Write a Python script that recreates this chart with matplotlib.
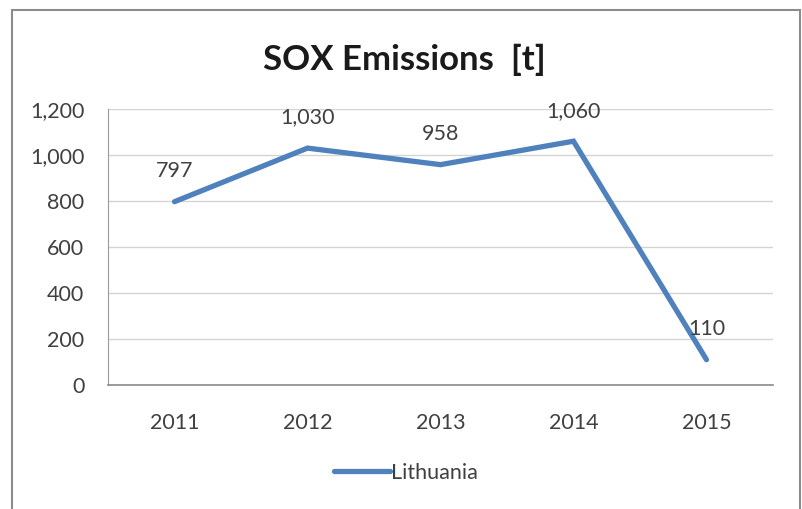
import matplotlib
matplotlib.use("Agg")
import matplotlib.pyplot as plt
from matplotlib.patches import Rectangle

plt.rcParams['font.family'] = ['Lato', 'DejaVu Sans']

years = ["2011", "2012", "2013", "2014", "2015"]
emissions = [797, 1030, 958, 1060, 110]
value_labels = ["797", "1,030", "958", "1,060", "110"]
y_ticks = [0, 200, 400, 600, 800, 1000, 1200]
y_tick_labels = ["0", "200", "400", "600", "800", "1,000", "1,200"]

line_color = "#4f81bd"
text_color = "#404040"
fs = 15.5

fig = plt.figure(figsize=(8.03, 5.09), dpi=100)
fig.patch.set_facecolor("white")

# outer chart frame
fig.patches.append(Rectangle((12 / 803, -0.05), 788 / 803, 1 - 10 / 509 + 0.05,
                             transform=fig.transFigure, fill=False,
                             edgecolor="#8c8c8c", linewidth=1.5))

ax = fig.add_axes([108 / 803, 1 - 385 / 509, 665 / 803, 276 / 509])
x = list(range(len(years)))
ax.plot(x, emissions, color=line_color, linewidth=3.8, solid_joinstyle="miter",
        solid_capstyle="round", label="Lithuania")

for xi, v, lab in zip(x, emissions, value_labels):
    ax.annotate(lab, (xi, v), xytext=(0, 22), textcoords="offset points",
                ha="center", va="center", fontsize=fs, color=text_color)

ax.set_xlim(-0.5, len(years) - 0.5)
ax.set_ylim(0, 1200)
ax.set_xticks(x)
ax.set_xticklabels(years)
ax.set_yticks(y_ticks)
ax.set_yticklabels(y_tick_labels)
ax.tick_params(axis="both", length=0, labelsize=fs, labelcolor=text_color)
ax.tick_params(axis="y", pad=17)
ax.tick_params(axis="x", pad=20)
ax.yaxis.grid(True, color="#d4d4d4", linewidth=1)
ax.set_axisbelow(True)
for side in ["top", "right"]:
    ax.spines[side].set_visible(False)
ax.spines["left"].set_color("#9a9a9a")
ax.spines["bottom"].set_color("#8a8a8a")
ax.spines["bottom"].set_linewidth(1.2)

fig.text(0.503, 1 - 60 / 509, "SOX Emissions  [t]", ha="center", va="center",
         fontsize=25, fontweight="bold", color="#1a1a1a")

fig.legend(handles=ax.get_lines(), loc="center", bbox_to_anchor=(0.505, 1 - 473 / 509),
           frameon=False, fontsize=fs, handlelength=2.6, handletextpad=0.05,
           labelcolor=text_color)

fig.savefig("out.png", dpi=100)
